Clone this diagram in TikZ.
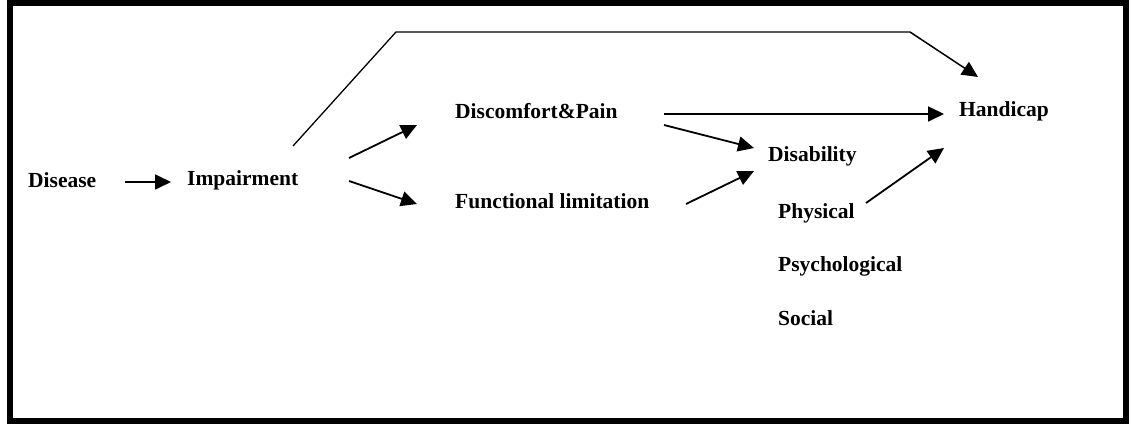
\documentclass[tikz,border=0pt]{standalone}
\usepackage{fontspec}
\setmainfont{Liberation Serif}
\usetikzlibrary{arrows.meta,calc}
\begin{document}
\begin{tikzpicture}[x=1pt,y=-1pt,
  lbl/.style={anchor=west,inner sep=0pt,font=\fontsize{21.5}{24}\selectfont\bfseries},
  arr/.style={line width=1.8pt,-{Triangle[length=16pt,width=15pt]}},
  thin/.style={line width=1.3pt}]
\useasboundingbox (0,0) rectangle (1131,427);
\draw[line width=6pt] (10,3) rectangle (1126,421);
\node[lbl] (dis) at (28,180) {Disease};
\node[lbl] (imp) at (187,180) {Impairment};
\node[lbl] (dp) at (455,111) {Discomfort\&Pain};
\node[lbl] (fl) at (455,201) {Functional limitation};
\node[lbl] (db) at (768,156) {Disability};
\node[lbl] (hc) at (959,111) {Handicap};
\node[lbl] (ph) at (778,213) {Physical};
\node[lbl] (ps) at (778,266) {Psychological};
\node[lbl] (so) at (778,318) {Social};
\coordinate (c1) at (396,32);
\coordinate (c2) at (910,32);
\draw[arr] ($(dis.west)+(97,2)$) -- ($(imp.west)+(-16,2)$);
\draw[thin] ($(imp.west)+(106,-34)$) -- (c1) -- (c2);
\draw[arr,line width=1.5pt] (c2) -- ($(hc.west)+(19,-34)$);
\draw[arr] ($(imp.west)+(162,-22)$) -- ($(dp.west)+(-38,14)$);
\draw[arr] ($(imp.west)+(162,1)$) -- ($(fl.west)+(-38,3)$);
\draw[arr] ($(dp.west)+(209,3)$) -- ($(hc.west)+(-15,3)$);
\draw[arr] ($(dp.west)+(209,14)$) -- ($(db.west)+(-14,-8)$);
\draw[arr] ($(fl.west)+(231,3)$) -- ($(db.west)+(-14,15)$);
\draw[arr] ($(ph.west)+(88,-10)$) -- ($(hc.west)+(-15,37)$);
\end{tikzpicture}
\end{document}
